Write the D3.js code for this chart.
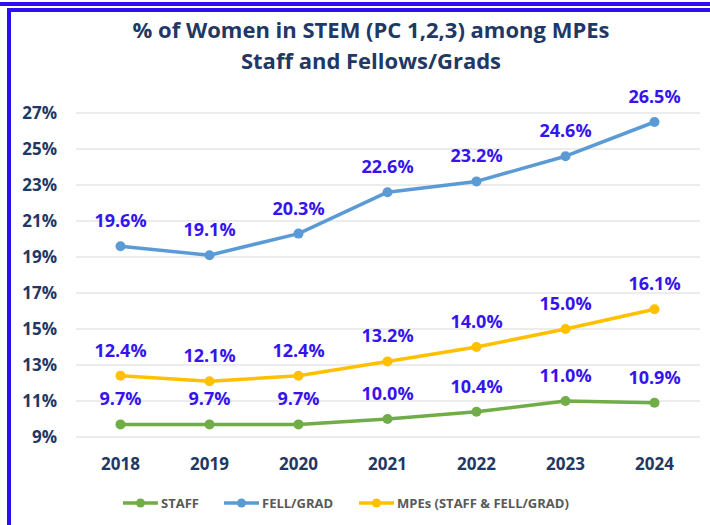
<!DOCTYPE html>
<html>
<head>
<meta charset="utf-8">
<script src="https://cdnjs.cloudflare.com/ajax/libs/d3/7.8.5/d3.min.js"></script>
<style>
  body { margin: 0; background: #fff; }
  svg { display: block; font-family: "Open Sans", "Noto Sans", sans-serif; }
</style>
</head>
<body>
<svg id="chart" width="710" height="525"></svg>
<script>
var years = ["2018", "2019", "2020", "2021", "2022", "2023", "2024"];
var staff = [9.7, 9.7, 9.7, 10.0, 10.4, 11.0, 10.9];
var fellGrad = [19.6, 19.1, 20.3, 22.6, 23.2, 24.6, 26.5];
var mpes = [12.4, 12.1, 12.4, 13.2, 14.0, 15.0, 16.1];
var yTicks = [9, 11, 13, 15, 17, 19, 21, 23, 25, 27];

var series = [
  { name: "STAFF", values: staff, color: "#70ad47" },
  { name: "FELL/GRAD", values: fellGrad, color: "#5b9bd5" },
  { name: "MPEs (STAFF & FELL/GRAD)", values: mpes, color: "#ffc000" }
];

var svg = d3.select("#chart");

// frame
var frameColor = "#2d10ef";
svg.append("rect").attr("x", 0).attr("y", 2).attr("width", 710).attr("height", 4).attr("fill", frameColor);
svg.append("rect").attr("x", 7).attr("y", 8).attr("width", 703).attr("height", 4).attr("fill", frameColor);
svg.append("rect").attr("x", 7).attr("y", 8).attr("width", 4).attr("height", 517).attr("fill", frameColor);

// title
var title = svg.append("text")
  .attr("text-anchor", "middle")
  .attr("fill", "#1f3864")
  .attr("font-size", 22)
  .attr("font-weight", "bold");
title.append("tspan").attr("x", 371).attr("y", 38).text("% of Women in STEM (PC 1,2,3) among MPEs");
title.append("tspan").attr("x", 371).attr("y", 69).text("Staff and Fellows/Grads");

var x = d3.scalePoint().domain(years).range([120.5, 654.5]);
var y = d3.scaleLinear().domain([9, 27]).range([437, 113]);

// gridlines
svg.append("g")
  .selectAll("line")
  .data(yTicks)
  .enter().append("line")
  .attr("x1", 76).attr("x2", 700)
  .attr("y1", function (d) { return y(d); })
  .attr("y2", function (d) { return y(d); })
  .attr("stroke", "#d9d9d9")
  .attr("stroke-width", 1);

// y labels
svg.append("g")
  .selectAll("text")
  .data(yTicks)
  .enter().append("text")
  .attr("x", 57)
  .attr("y", function (d) { return y(d) + 6; })
  .attr("text-anchor", "end")
  .attr("fill", "#1f3864")
  .attr("font-size", 17)
  .attr("font-weight", "bold")
  .text(function (d) { return d + "%"; });

// x labels
svg.append("g")
  .selectAll("text")
  .data(years)
  .enter().append("text")
  .attr("x", function (d) { return x(d); })
  .attr("y", 470)
  .attr("text-anchor", "middle")
  .attr("fill", "#1f3864")
  .attr("font-size", 17)
  .attr("font-weight", "bold")
  .text(function (d) { return d; });

var line = d3.line()
  .x(function (d, i) { return x(years[i]); })
  .y(function (d) { return y(d); });

series.forEach(function (s) {
  var g = svg.append("g");
  g.append("path")
    .datum(s.values)
    .attr("d", line)
    .attr("fill", "none")
    .attr("stroke", s.color)
    .attr("stroke-width", 3.5)
    .attr("stroke-linejoin", "round");
  g.selectAll("circle")
    .data(s.values)
    .enter().append("circle")
    .attr("cx", function (d, i) { return x(years[i]); })
    .attr("cy", function (d) { return y(d); })
    .attr("r", 5)
    .attr("fill", s.color);
  g.selectAll("text")
    .data(s.values)
    .enter().append("text")
    .attr("x", function (d, i) { return x(years[i]); })
    .attr("y", function (d) { return y(d) - 19; })
    .attr("text-anchor", "middle")
    .attr("fill", "#3614ee")
    .attr("font-size", 18)
    .attr("font-weight", "bold")
    .text(function (d) { return d.toFixed(1) + "%"; });
});

// legend
var legendX = [123, 224, 359];
var legend = svg.append("g");
series.forEach(function (s, i) {
  var lx = legendX[i];
  legend.append("line")
    .attr("x1", lx).attr("x2", lx + 35)
    .attr("y1", 503).attr("y2", 503)
    .attr("stroke", s.color).attr("stroke-width", 3.5);
  legend.append("circle")
    .attr("cx", lx + 17.5).attr("cy", 503).attr("r", 4.5)
    .attr("fill", s.color);
  legend.append("text")
    .attr("x", lx + 38).attr("y", 508)
    .attr("fill", "#595959")
    .attr("font-size", 13)
    .attr("font-weight", "bold")
    .text(s.name);
});
</script>
</body>
</html>
